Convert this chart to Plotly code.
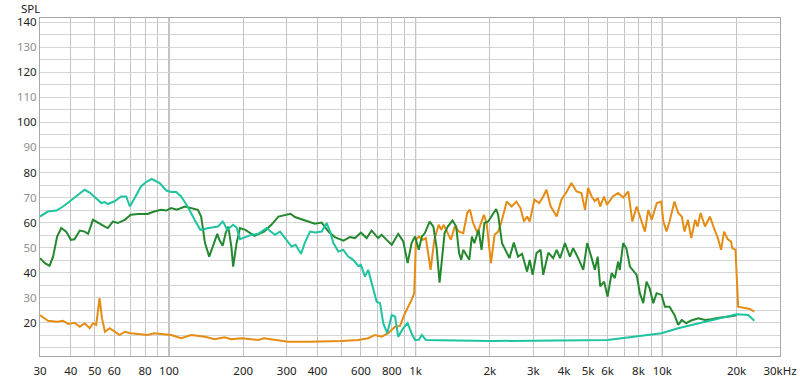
import plotly.graph_objects as go

# ---------------- data ----------------
teal_freq = [30, 32.3, 35, 37.2, 40, 43.5, 45.5, 47.7, 50.5, 53.2, 54.9, 56.4, 60, 64, 67.1, 69.4, 73, 77, 81.3, 85.2,
             91.7, 97.5, 102, 107, 112, 119, 127, 134, 145, 158, 165, 167, 172, 182, 188, 194, 204, 216, 230, 249,
             257, 269, 282, 300, 314, 326, 343, 355, 373, 391, 416, 436, 450, 464, 486, 509, 533, 558, 585, 600,
             623, 642, 663, 695, 717, 739, 767, 800, 825, 850, 891, 928, 963, 994, 1030, 1060, 1100, 1200, 1500, 2000,
             3000, 4000, 5000, 6000, 6840, 8500, 9930, 11600, 13600, 15800, 18500, 20000, 22300, 23600]
teal_spl = [62.4, 64.4, 64.8, 66.4, 68.8, 71.8, 73.1, 72.0, 69.8, 67.8, 68.2, 67.4, 68.4, 70.4, 70.4, 66.4, 70.2, 74.4, 76.4, 77.4,
            75.8, 72.8, 72.2, 72.2, 70.4, 66.4, 61.1, 57.1, 57.8, 58.4, 60.4, 59.8, 57.1, 59.1, 58.0, 53.4, 54.2, 55.1, 55.5, 57.8,
            56.6, 55.1, 56.4, 53.1, 50.4, 51.1, 47.5, 51.8, 56.4, 56.0, 56.4, 59.8, 56.4, 51.8, 48.4, 49.1, 46.4, 45.1, 42.7, 43.1,
            38.4, 41.1, 35.8, 28.4, 27.8, 19.8, 15.8, 23.1, 22.4, 14.4, 17.8, 19.8, 15.8, 13.1, 13.2, 15.1, 13.1, 13.0, 12.8, 12.7,
            12.8, 12.8, 13.0, 13.1, 13.8, 15.1, 15.8, 17.8, 19.5, 21.1, 22.7, 23.4, 23.1, 20.8]

green_freq = [30, 31.4, 32.8, 33.9, 35.2, 36.6, 38.3, 40, 41.4, 43.5, 45.5, 47, 49.2, 51.6, 55, 56.5, 59.2, 62, 66.2, 70,
              75, 82, 87, 93, 97.5, 102, 107.6, 116, 123, 131, 135, 140, 145.6, 151, 157, 160, 165, 170, 174, 179,
              182, 188, 194, 204, 222, 243, 260, 278, 311, 324, 355, 390, 416, 443, 470, 510, 541, 568, 600, 633,
              663, 705, 728, 762, 800, 850, 891, 928, 963, 994, 1030, 1060, 1090, 1140, 1180, 1217, 1250, 1270, 1310, 1350,
              1410, 1460, 1500, 1530, 1560, 1650, 1690, 1730, 1800, 1850, 1900, 1970, 2120, 2160, 2240, 2400, 2500, 2600, 2700, 2830,
              2900, 2980, 3090, 3210, 3290, 3450, 3610, 3730, 3850, 4030, 4220, 4350, 4560, 4780, 4960, 5170, 5330, 5470, 5600, 5810,
              6000, 6230, 6420, 6620, 6720, 6940, 7160, 7390, 7870, 8110, 8370, 8630, 8900, 9190, 9480, 9930, 10250, 10700, 11200, 11600,
              12000, 12500, 13100, 14000, 14900, 15800, 17000, 19000, 20000]
green_spl = [45.8, 43.8, 42.7, 46.4, 54.4, 57.8, 56.4, 53.1, 53.3, 56.8, 56.4, 55.5, 61.1, 59.8, 58.4, 57.8, 60.4, 59.8, 61.1, 63.1,
             63.4, 63.4, 64.4, 65.1, 64.8, 65.8, 65.1, 66.4, 65.8, 65.1, 62.4, 51.8, 46.4, 50.4, 55.5, 53.1, 50.7, 56.0, 58.4, 50.4,
             42.4, 51.8, 57.8, 57.1, 54.7, 56.4, 59.1, 62.4, 63.5, 62.2, 60.8, 59.5, 60.0, 56.4, 54.2, 52.8, 54.2, 53.8, 56.0, 53.8,
             56.8, 53.8, 55.1, 53.1, 51.1, 55.5, 52.5, 43.8, 51.8, 54.4, 49.1, 54.4, 55.8, 60.4, 58.4, 49.8, 36.0, 42.4, 55.8, 58.4,
             60.8, 58.4, 47.8, 45.1, 49.1, 45.1, 54.4, 51.8, 57.1, 49.1, 59.8, 60.4, 65.4, 63.1, 51.8, 45.8, 52.0, 46.4, 47.5, 40.4,
             45.1, 39.1, 47.8, 49.1, 39.1, 48.0, 45.8, 49.1, 45.8, 51.8, 46.4, 49.8, 45.8, 41.1, 51.8, 45.8, 41.1, 46.4, 34.5, 36.4,
             30.4, 39.8, 37.8, 44.4, 41.0, 51.8, 49.5, 42.4, 39.1, 31.8, 27.8, 36.4, 33.5, 27.8, 31.8, 31.1, 26.4, 26.4, 23.1, 19.1,
             21.1, 19.8, 20.9, 21.8, 21.1, 21.4, 22.0, 22.6, 23.0]

orange_freq = [30, 32.3, 35.2, 37.2, 39, 41.4, 43.5, 45.5, 47.7, 49.2, 50.7, 52.3, 53.5, 55, 57.5, 60, 63.1, 66.2, 70, 75,
               82, 87, 96, 102, 112, 123, 140, 153, 168, 179, 197, 230, 243, 269, 304, 367, 429, 501, 585, 642,
               684, 728, 774, 825, 864, 905, 963, 987, 1003, 1030, 1070, 1100, 1150, 1190, 1240, 1270, 1300, 1390, 1440, 1500,
               1560, 1620, 1660, 1710, 1770, 1800, 1890, 1940, 2020, 2090, 2160, 2230, 2340, 2450, 2560, 2660, 2750, 2830, 2900, 3030,
               3170, 3290, 3390, 3530, 3730, 3900, 4100, 4280, 4490, 4700, 4860, 5000, 5170, 5330, 5480, 5600, 5800, 5970, 6300, 6620,
               6940, 7280, 7560, 7870, 8200, 8500, 8770, 9060, 9500, 9900, 10100, 10400, 10700, 11200, 11600, 12000, 12300, 12700, 13100, 13600,
               13900, 14300, 14900, 15600, 16200, 16800, 17300, 17800, 18400, 19000, 19200, 19800, 20300, 21600, 22600, 23600]
orange_spl = [23.1, 20.8, 20.4, 20.8, 19.5, 20.0, 18.4, 19.8, 17.8, 19.8, 19.1, 29.8, 21.8, 16.4, 17.8, 16.4, 15.1, 16.4, 15.8, 15.5,
              15.1, 15.8, 15.5, 15.1, 13.8, 15.1, 14.4, 13.4, 14.2, 13.4, 13.8, 13.1, 13.8, 13.1, 12.4, 12.4, 12.4, 12.7, 13.1, 13.8,
              15.1, 14.4, 15.8, 18.4, 18.7, 23.8, 29.1, 31.8, 53.1, 54.4, 53.1, 53.8, 41.1, 53.1, 59.1, 57.1, 59.1, 53.1, 58.4, 56.4,
              55.8, 64.0, 65.1, 59.8, 56.4, 57.0, 63.1, 59.8, 43.8, 55.1, 56.4, 60.4, 68.4, 66.4, 68.4, 65.8, 60.4, 62.4, 60.4, 69.1,
              67.8, 70.4, 73.1, 66.4, 62.4, 69.1, 72.4, 75.8, 72.4, 71.8, 65.1, 73.8, 70.4, 68.5, 69.8, 66.4, 70.4, 67.1, 70.4, 71.8,
              70.0, 72.4, 60.4, 66.4, 61.1, 56.4, 65.1, 61.1, 67.8, 68.4, 60.4, 56.4, 60.4, 68.4, 63.8, 62.4, 56.4, 61.1, 53.8, 61.1,
              58.4, 63.8, 58.4, 62.4, 57.8, 53.8, 49.1, 56.4, 53.4, 52.4, 49.8, 49.1, 26.4, 25.8, 25.5, 24.4]

x_tick_vals = [30, 40, 50, 60, 80, 100, 200, 300, 400, 600, 800, 1000, 2000, 3000, 4000, 5000, 6000, 8000, 10000, 20000, 30000]
x_tick_text = ["30", "40", "50", "60", "80", "100", "200", "300", "400", "600", "800", "1k", "2k", "3k", "4k", "5k", "6k",
               "8k", "10k", "20k", "30kHz"]
x_minor_vals = [70, 90, 500, 700, 900, 7000, 9000]
x_major_decades = [100, 1000, 10000]
y_tick_vals = [20, 30, 40, 50, 60, 70, 80, 90, 100, 110, 120, 130, 140]

# ---------------- figure ----------------
fig = go.Figure()
series = [
    (orange_freq, orange_spl, "#e58c14"),
    (green_freq, green_spl, "#24882e"),
    (teal_freq, teal_spl, "#1fc39f"),
]
for fx, fy, col in series:
    fig.add_trace(go.Scatter(x=fx, y=fy, mode="lines", line=dict(color=col, width=2), hoverinfo="skip",
                             showlegend=False))

for d in x_major_decades:
    fig.add_shape(type="line", xref="x", yref="paper", x0=d, x1=d, y0=0, y1=1,
                  line=dict(color="#7a7a7a", width=1), layer="below")

y_text = []
for v in y_tick_vals:
    col = "#1e1e1e" if v % 20 == 0 else "#909090"
    y_text.append('<span style="color:%s">%d</span>' % (col, v))

fig.update_layout(
    width=800, height=380,
    margin=dict(l=40, r=20, t=18, b=24, autoexpand=False),
    paper_bgcolor="white", plot_bgcolor="white",
    font=dict(family="Noto Sans, Open Sans, sans-serif", size=11, color="#222"),
    annotations=[dict(text="SPL", xref="paper", yref="paper", x=-0.029, y=1.027, xanchor="left", yanchor="middle",
                      showarrow=False, font=dict(size=11.5, color="#222"))],
)
fig.update_xaxes(
    type="log", range=[1.47712, 4.47712], automargin=False,
    tickvals=x_tick_vals, ticktext=x_tick_text,
    showgrid=True, gridcolor="#c4c4c4", gridwidth=1,
    minor=dict(tickvals=x_minor_vals, showgrid=True, gridcolor="#c4c4c4", ticks=""),
    ticks="outside", ticklen=4, tickcolor="rgba(0,0,0,0)",
    showline=True, linecolor="#a8a8a8", linewidth=1, mirror=True,
    zeroline=False, tickfont=dict(size=11.5, color="#222"),
)
fig.update_yaxes(
    range=[6.7, 141.7], automargin=False,
    tickvals=y_tick_vals, ticktext=y_text,
    showgrid=True, gridcolor="#d4d4d4", gridwidth=1,
    minor=dict(dtick=5, tick0=0, showgrid=True, gridcolor="#d4d4d4", ticks=""),
    ticks="", showline=True, linecolor="#a8a8a8", linewidth=1, mirror=True,
    zeroline=False, tickfont=dict(size=11.5),
)

fig.write_html("out.html", config={"displayModeBar": False},
               post_script="document.body.style.margin='0px';document.body.style.overflow='hidden';")
